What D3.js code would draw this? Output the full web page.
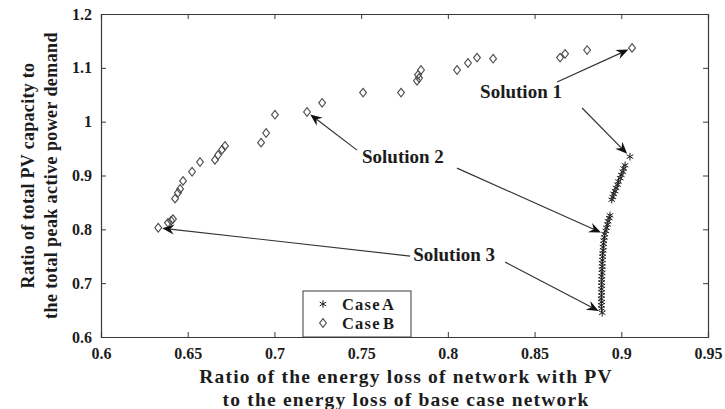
<!DOCTYPE html>
<html>
<head>
<meta charset="utf-8">
<script src="https://cdn.jsdelivr.net/npm/d3@7"></script>
<style>
  body { margin: 0; background: #fff; }
  svg { display: block; }
  text { font-family: "Liberation Serif", "Times New Roman", serif; font-weight: bold; fill: #1c1c1c; }
</style>
</head>
<body>
<svg id="chart" width="725" height="409"></svg>
<script>
// Axis ticks
const xTickValues = [0.6, 0.65, 0.7, 0.75, 0.8, 0.85, 0.9, 0.95];
const yTickValues = [0.6, 0.7, 0.8, 0.9, 1.0, 1.1, 1.2];

// Case A: energy-loss ratio vs PV capacity ratio
const caseALoss = [0.905, 0.9022, 0.9014, 0.9009, 0.9, 0.8994, 0.8984, 0.8979, 0.897, 0.8964, 0.8956, 0.8951, 0.8945,
  0.8935, 0.8931, 0.8924, 0.8921, 0.8914, 0.8911, 0.8904, 0.8903, 0.8899, 0.8898, 0.8895, 0.8896, 0.8892, 0.8893,
  0.8891, 0.8889, 0.8891, 0.8888, 0.889, 0.8887, 0.8888, 0.8886, 0.8888, 0.8885, 0.8887, 0.8886, 0.8884, 0.8887,
  0.8885, 0.8886, 0.889];
const caseARatio = [0.935, 0.919, 0.913, 0.907, 0.901, 0.895, 0.889, 0.883, 0.877, 0.871, 0.866, 0.86, 0.855,
  0.826, 0.821, 0.815, 0.809, 0.803, 0.797, 0.791, 0.785, 0.779, 0.773, 0.767, 0.761, 0.755, 0.749,
  0.743, 0.737, 0.731, 0.725, 0.719, 0.713, 0.707, 0.701, 0.695, 0.689, 0.683, 0.677, 0.671, 0.665,
  0.659, 0.653, 0.645];

// Case B
const caseBLoss = [0.633, 0.6386, 0.6404, 0.6415, 0.6427, 0.6444, 0.6456, 0.6473, 0.6525, 0.6571, 0.6657, 0.6675,
  0.6698, 0.6715, 0.6923, 0.6952, 0.7003, 0.7188, 0.7275, 0.7511, 0.773, 0.7822, 0.7834, 0.7828, 0.7845, 0.8053,
  0.8116, 0.8168, 0.8261, 0.8647, 0.8676, 0.8803, 0.9062];
const caseBRatio = [0.803, 0.812, 0.816, 0.819, 0.857, 0.868, 0.875, 0.89, 0.907, 0.925, 0.929, 0.938,
  0.948, 0.955, 0.961, 0.979, 1.013, 1.018, 1.035, 1.054, 1.054, 1.076, 1.081, 1.087, 1.096, 1.096,
  1.109, 1.119, 1.117, 1.119, 1.126, 1.133, 1.137];

const legendLabels = ["Case A", "Case B"];
const solutionLabels = ["Solution 1", "Solution 2", "Solution 3"];
// which point of each series every solution refers to
const solutionIndexB = [32, 17, 0];
const solutionIndexA = [0, 19, 43];

const svg = d3.select("#chart");
const margin = { left: 101, right: 17, top: 14, bottom: 72 };
const W = 725, H = 409;

const x = d3.scaleLinear().domain([0.6, 0.95]).range([margin.left, W - margin.right]);
const y = d3.scaleLinear().domain([0.6, 1.2]).range([H - margin.bottom, margin.top]);

const axisColor = "#3a3a3a";
const tickLen = 5;
const fmt = d => (d === 1 ? "1" : d3.format("")(d));

// bottom / left axes with inward ticks
const gx = svg.append("g").attr("transform", `translate(0,${y(0.6)})`)
  .call(d3.axisBottom(x).tickValues(xTickValues).tickSize(-tickLen).tickPadding(11).tickFormat(fmt));
const gy = svg.append("g").attr("transform", `translate(${x(0.6)},0)`)
  .call(d3.axisLeft(y).tickValues(yTickValues).tickSize(-tickLen).tickPadding(9).tickFormat(fmt));
// top / right axes, ticks only
const gt = svg.append("g").attr("transform", `translate(0,${y(1.2)})`)
  .call(d3.axisTop(x).tickValues(xTickValues).tickSize(-tickLen).tickFormat(""));
const gr = svg.append("g").attr("transform", `translate(${x(0.95)},0)`)
  .call(d3.axisRight(y).tickValues(yTickValues).tickSize(-tickLen).tickFormat(""));

[gx, gy, gt, gr].forEach(g => {
  g.selectAll("path.domain").attr("stroke", axisColor).attr("stroke-width", 1.2);
  g.selectAll(".tick line").attr("stroke", axisColor);
  g.selectAll(".tick text").style("font-size", "16px").attr("fill", "#1c1c1c")
    .style("font-family", '"Liberation Serif", serif').style("font-weight", "bold");
});

// axis titles
svg.append("text").attr("x", 406).attr("y", 383).attr("text-anchor", "middle")
  .style("font-size", "19.5px").style("letter-spacing", "1.2px")
  .text("Ratio of the energy loss of network with PV");
svg.append("text").attr("x", 406).attr("y", 406).attr("text-anchor", "middle")
  .style("font-size", "19.5px").style("letter-spacing", "1.2px")
  .text("to the energy loss of base case network");

const yTitle = svg.append("g").attr("transform", `translate(0,${(y(0.6) + y(1.2)) / 2}) rotate(-90)`);
yTitle.append("text").attr("x", 0).attr("y", 34).attr("text-anchor", "middle")
  .style("font-size", "18px").style("letter-spacing", "0.3px").text("Ratio of total PV capacity to");
yTitle.append("text").attr("x", 0).attr("y", 57).attr("text-anchor", "middle")
  .style("font-size", "18px").style("letter-spacing", "0.4px").text("the total peak active power demand");

// markers
const diamondPath = "M0,-4.3L3.4,0L0,4.3L-3.4,0Z";
const starPath = d3.symbol().type(d3.symbolAsterisk).size(40)();

function drawStar(g, px, py) {
  g.append("path").attr("d", starPath).attr("transform", `translate(${px},${py})`)
    .attr("fill", "none").attr("stroke", "#222").attr("stroke-width", 1);
}
function drawDiamond(g, px, py) {
  g.append("path").attr("d", diamondPath).attr("transform", `translate(${px},${py})`)
    .attr("fill", "none").attr("stroke", "#4a4a4a").attr("stroke-width", 1.1);
}

const gB = svg.append("g");
caseBLoss.forEach((v, i) => drawDiamond(gB, x(v), y(caseBRatio[i])));
const gA = svg.append("g");
caseALoss.forEach((v, i) => drawStar(gA, x(v), y(caseARatio[i])));

// solution annotations: label anchor and arrow tails relative to it
const labelPos = [[0.8186, 1.044], [0.7505, 0.923], [0.780, 0.741]];
const tailB = [[77, -16], [-5, -13], [-3, -5]];
const tailA = [[102, 10], [95, 5], [92, 1]];

function arrow(g, x0, y0, x1, y1, gap) {
  const dx = x1 - x0, dy = y1 - y0, len = Math.hypot(dx, dy);
  const ux = dx / len, uy = dy / len, nx = -uy, ny = ux;
  const tx = x1 - ux * gap, ty = y1 - uy * gap;
  const hl = 12, hw = 5, notch = 8;
  g.append("line").attr("x1", x0).attr("y1", y0)
    .attr("x2", tx - ux * notch).attr("y2", ty - uy * notch)
    .attr("stroke", "#333").attr("stroke-width", 1.2);
  const pts = [[tx, ty], [tx - ux * hl + nx * hw, ty - uy * hl + ny * hw],
    [tx - ux * notch, ty - uy * notch], [tx - ux * hl - nx * hw, ty - uy * hl - ny * hw]];
  g.append("path").attr("d", "M" + pts.map(p => p.join(",")).join("L") + "Z").attr("fill", "#111");
}

const gAnn = svg.append("g");
solutionLabels.forEach((label, i) => {
  const lx = x(labelPos[i][0]), ly = y(labelPos[i][1]);
  gAnn.append("text").attr("x", lx).attr("y", ly).style("font-size", "19px").text(label);
  const b = solutionIndexB[i], a = solutionIndexA[i];
  arrow(gAnn, lx + tailB[i][0], ly + tailB[i][1], x(caseBLoss[b]), y(caseBRatio[b]), 4);
  arrow(gAnn, lx + tailA[i][0], ly + tailA[i][1], x(caseALoss[a]), y(caseARatio[a]), 4);
});

// legend
const lg = svg.append("g");
lg.append("rect").attr("x", 303).attr("y", 291).attr("width", 108).attr("height", y(0.6) - 291)
  .attr("fill", "#fff").attr("stroke", "#3a3a3a").attr("stroke-width", 1);
drawStar(lg, 323, 304);
drawDiamond(lg, 323, 323);
legendLabels.forEach((t, i) => {
  lg.append("text").attr("x", 342).attr("y", 309.5 + i * 19).style("font-size", "16.5px")
    .style("letter-spacing", "1.2px").style("word-spacing", "-3px").text(t);
});
</script>
</body>
</html>
